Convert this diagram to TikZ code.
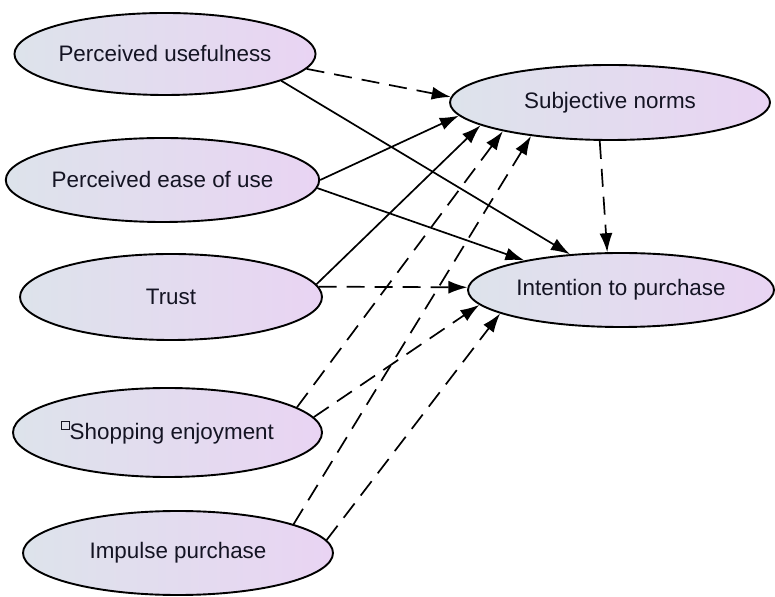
\documentclass[tikz,border=0pt]{standalone}
\usepackage{fontspec}
\setmainfont{Liberation Sans}
\usetikzlibrary{shapes,arrows.meta,positioning}

\definecolor{lvblue}{RGB}{221,227,235}
\definecolor{lvlilac}{RGB}{233,212,243}
\definecolor{lvtext}{RGB}{20,20,35}

\tikzset{
  construct/.style={ellipse, draw=black, line width=0.95pt, left color=lvblue, right color=lvlilac,
    text=lvtext, font=\fontsize{11.2}{13}\selectfont, inner sep=0pt},
  solidlink/.style={-{Latex[length=9.5pt,width=6.5pt]}, line width=0.85pt},
  dashlink/.style={solidlink, dash pattern=on 9pt off 5pt}
}

\begin{document}
\begin{tikzpicture}[x=0.5pt,y=-0.5pt]
\useasboundingbox (0,0) rectangle (775,597);

% Constructs
\node[construct, minimum width=140pt, minimum height=41pt] (pu) at (165,54) {Perceived usefulness};
\node[construct, minimum width=150.5pt, minimum height=42pt] (peou) at (162.5,180) {Perceived ease of use};
\node[construct, minimum width=151pt, minimum height=43pt] (trust) at (171,297) {Trust};
\node[construct, minimum width=154.5pt, minimum height=44.5pt] (se) at (167.5,432.5)
  {\raisebox{0.45em}{\setlength{\fboxsep}{0pt}\setlength{\fboxrule}{0.5pt}\fbox{\rule{0.3em}{0pt}\rule{0pt}{0.3em}}}Shopping enjoyment};
\node[construct, minimum width=155pt, minimum height=42pt] (imp) at (178,553) {Impulse purchase};
\node[construct, minimum width=160pt, minimum height=37.5pt] (sn) at (610,102.5) {Subjective norms};
\node[construct, minimum width=153pt, minimum height=37pt] (ip) at (621,290) {Intention to purchase};

% Paths to subjective norms
\draw[dashlink] (pu.-6) -- (sn.178.5);
\draw[solidlink] (peou.0) -- (sn.185);
\draw[solidlink] (trust.5.6) -- (sn.190);
\draw[dashlink] (se.11) -- (sn.195);
\draw[dashlink] (imp.14) -- (sn.203);

% Paths to intention
\draw[solidlink] (pu.-13) -- (ip.145);
\draw[solidlink] (peou.-3) -- (ip.163);
\draw[dashlink] (trust.4) -- (ip.179);
\draw[dashlink] (se.6) -- (ip.186);
\draw[dashlink] (imp.5.5) -- (ip.191);
\draw[dashlink] (sn.255) -- (ip.110);

\end{tikzpicture}
\end{document}
